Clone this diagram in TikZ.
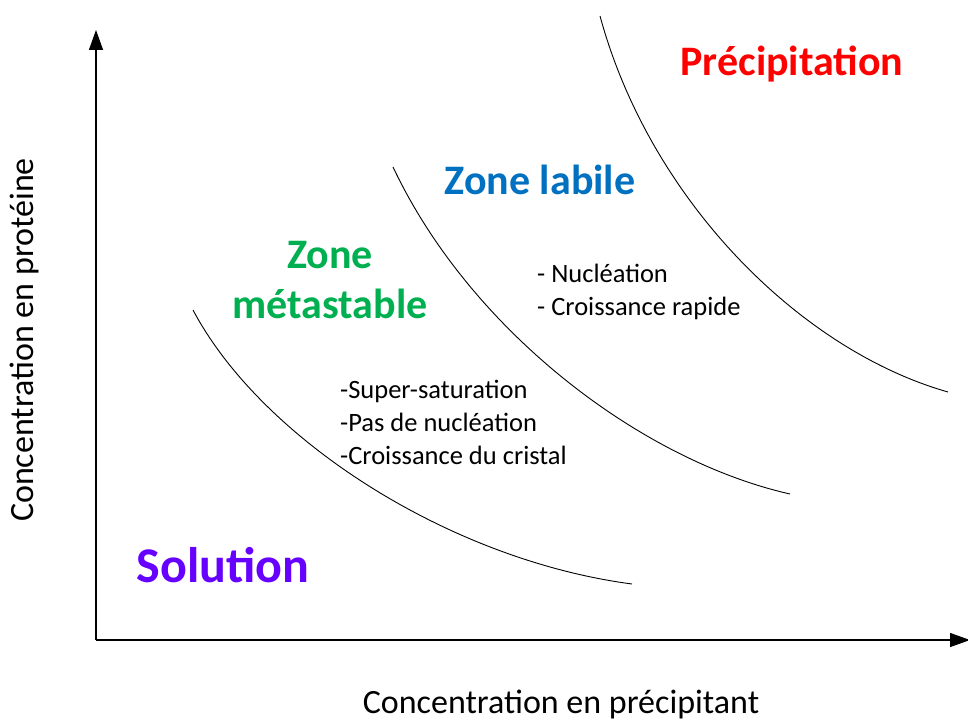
\documentclass[tikz,border=0pt]{standalone}
\usepackage{fontspec}
\setmainfont{Carlito}
\usetikzlibrary{arrows.meta}
\definecolor{precred}{RGB}{255,0,0}
\definecolor{labblue}{RGB}{0,112,192}
\definecolor{metgreen}{RGB}{0,176,80}
\definecolor{solpurple}{RGB}{102,0,255}
\begin{document}
\begin{tikzpicture}[x=1pt,y=-1pt,
  axis/.style={line width=1.3pt, draw=black, -{Triangle[width=14pt,length=20pt]}},
  curve/.style={line width=0.9pt},
  title/.style={font=\fontsize{42}{50}\selectfont\bfseries, inner sep=0pt, align=center},
  bullets/.style={font=\fontsize{26.5}{33}\selectfont, inner sep=0pt, align=left, anchor=west},
  axlabel/.style={font=\fontsize{34}{40}\selectfont, inner sep=0pt}]
\useasboundingbox (0,0) rectangle (968,722);
\coordinate (O) at (96,640);
\coordinate (ytip) at (96,30);
\coordinate (xtip) at (970,640);
\draw[axis] (O) -- (ytip);
\draw[axis] (O) -- (xtip);
% curves
\coordinate (c1s) at (193,310);
\coordinate (c1e) at (632,584);
\coordinate (c2s) at (393,167);
\coordinate (c2e) at (790,494);
\coordinate (c3s) at (600,16);
\coordinate (c3e) at (948,392);
\draw[curve] (c1s) .. controls (262,440) and (450,560) .. (c1e);
\draw[curve] (c2s) .. controls (470,330) and (640,460) .. (c2e);
\draw[curve] (c3s) .. controls (650,200) and (800,350) .. (c3e);
% titles
\node[title, text=precred] (prec) at (792,64) {Précipitation};
\node[title, text=labblue] (lab) at (540,180) {Zone labile};
\node[title, text=metgreen] (met) at (330,280) {Zone\\métastable};
\node[title, text=solpurple, font=\fontsize{50}{60}\selectfont\bfseries] (sol) at (223,565) {Solution};
% bullets
\node[bullets] (b1) at (340,422) {-Super-saturation\\-Pas de nucléation\\-Croissance du cristal};
\node[bullets] (b2) at (537,292) {- Nucléation\\- Croissance rapide};
% axis labels
\node[axlabel] (xl) at (561,704) {Concentration en précipitant};
\node[axlabel, rotate=90] (yl) at (24,340) {Concentration en protéine};
\end{tikzpicture}
\end{document}
